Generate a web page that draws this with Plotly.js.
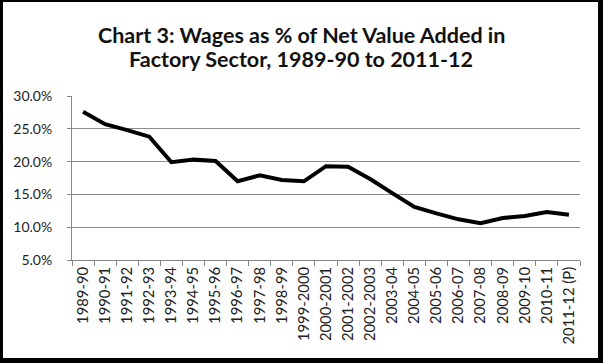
<!DOCTYPE html>
<html>
<head>
<meta charset="utf-8">
<script src="https://cdn.plot.ly/plotly-3.0.1.min.js"></script>
<style>
  html, body { margin: 0; padding: 0; background: #fff; }
  #wrap { position: relative; width: 603px; height: 363px; }
  #chart { position: absolute; left: 0; top: 0; width: 603px; height: 363px; }
  #frame { position: absolute; left: 0; top: 0; width: 603px; height: 363px; box-sizing: border-box;
           border-style: solid; border-color: #000; border-width: 2px 5px 5px 3px; pointer-events: none; }
</style>
</head>
<body>
<div id="wrap"><div id="chart"></div><div id="frame"></div></div>
<script>
const years = ["1989-90","1990-91","1991-92","1992-93","1993-94","1994-95","1995-96","1996-97","1997-98","1998-99","1999-2000","2000-2001","2001-2002","2002-2003","2003-04","2004-05","2005-06","2006-07","2007-08","2008-09","2009-10","2010-11","2011-12 (P)"];
const wageShare = [27.6, 25.7, 24.8, 23.8, 19.9, 20.3, 20.1, 17.0, 17.9, 17.2, 17.0, 19.3, 19.2, 17.35, 15.2, 13.1, 12.1, 11.2, 10.6, 11.4, 11.7, 12.3, 11.9];
const yTicks = [5, 10, 15, 20, 25, 30];
const yTickText = ["5.0%", "10.0%", "15.0%", "20.0%", "25.0%", "30.0%"];
const titleLines = ["Chart 3: Wages as % of Net Value Added in", "Factory Sector, 1989-90 to 2011-12"];

const trace = {
  x: years, y: wageShare, type: 'scatter', mode: 'lines',
  line: { color: '#000', width: 4 }, hoverinfo: 'skip'
};
const titleFont = { family: 'Lato, sans-serif', size: 21.5, color: '#111', weight: 'bold' };
const layout = {
  width: 603, height: 363,
  margin: { l: 72, r: 23, t: 96, b: 103, pad: 0 },
  paper_bgcolor: '#fff', plot_bgcolor: '#fff',
  showlegend: false,
  font: { family: 'Lato, sans-serif', color: '#222' },
  annotations: [
    { text: titleLines[0], xref: 'paper', yref: 'paper', x: (301 - 72) / 508, y: (260 - 35) / 164,
      xanchor: 'center', yanchor: 'middle', showarrow: false, font: titleFont },
    { text: titleLines[1], xref: 'paper', yref: 'paper', x: (301 - 72) / 508, y: (260 - 59) / 164,
      xanchor: 'center', yanchor: 'middle', showarrow: false, font: titleFont }
  ],
  xaxis: {
    type: 'category', range: [-0.5, 22.5],
    tickangle: -90, ticks: 'outside', ticklen: 5, tickcolor: '#888', tickwidth: 1,
    tickson: 'boundaries',
    showline: true, linecolor: '#888', linewidth: 1,
    showgrid: false, zeroline: false,
    tickfont: { family: 'Lato, sans-serif', size: 14.8, color: '#222' },
    fixedrange: true
  },
  yaxis: {
    range: [5, 30], tickvals: yTicks, ticktext: yTickText,
    ticks: 'outside', ticklen: 4, tickcolor: '#888', tickwidth: 1,
    ticklabelstandoff: 12,
    showline: true, linecolor: '#888', linewidth: 1,
    showgrid: true, gridcolor: '#8c8c8c', gridwidth: 1, zeroline: false,
    tickfont: { family: 'Lato, sans-serif', size: 14, color: '#222' },
    fixedrange: true
  }
};
Plotly.newPlot('chart', [trace], layout, { displayModeBar: false, staticPlot: true });
</script>
</body>
</html>
